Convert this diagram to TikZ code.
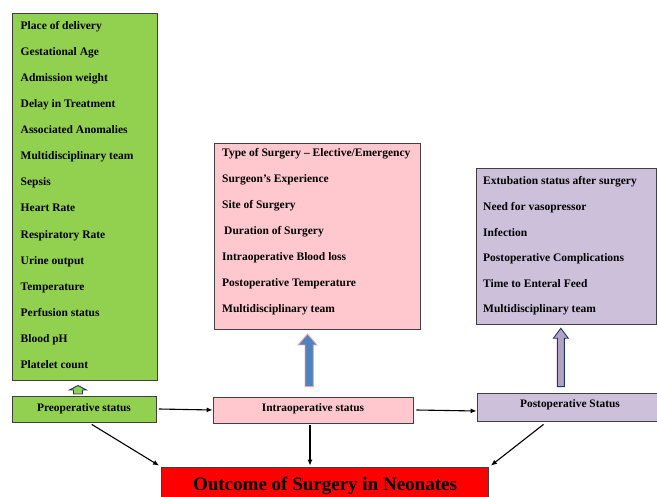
\documentclass[tikz,border=0pt]{standalone}
\usepackage{fontspec}
\setmainfont{Liberation Serif}
\usetikzlibrary{arrows.meta,calc}
\definecolor{gfill}{HTML}{92D050}
\definecolor{pfill}{HTML}{FFC7CE}
\definecolor{vfill}{HTML}{CCC0DA}
\definecolor{rfill}{HTML}{FF0000}
\definecolor{bline}{HTML}{404040}
\definecolor{navy}{HTML}{1F3864}
\definecolor{ablue}{HTML}{4F81BD}
\definecolor{apink}{HTML}{F4A6B4}
\definecolor{avio}{HTML}{B3A2C7}
\tikzset{
  box/.style={draw=bline, line width=0.8pt, inner sep=0pt, rectangle},
  item/.style={anchor=base west, inner sep=0pt, font=\fontsize{11.5}{13}\selectfont\bfseries},
  lbl/.style={anchor=base, inner sep=0pt, font=\fontsize{11.4}{13}\selectfont\bfseries},
  conn/.style={-{Latex[length=6pt,width=5pt]}, line width=1.1pt, black}
}
\begin{document}
\begin{tikzpicture}[x=1pt,y=-1pt]
\useasboundingbox (0,0) rectangle (657,497);
% boxes
\node[box, fill=gfill, minimum width=145pt, minimum height=367pt] (gbox) at (85,197) {};
\node[box, fill=pfill, minimum width=206pt, minimum height=186pt] (pbox) at (317,236) {};
\node[box, fill=vfill, minimum width=180pt, minimum height=156pt] (vbox) at (566.5,246) {};
\node[box, fill=gfill, minimum width=144pt, minimum height=26pt] (pre) at (84.5,409) {};
\node[box, fill=pfill, minimum width=200pt, minimum height=26pt] (intra) at (313,410) {};
\node[box, fill=vfill, minimum width=180pt, minimum height=28pt] (post) at (567,407) {};
\node[box, fill=rfill, minimum width=327pt, minimum height=34pt] (out) at (325,484) {};
% list items
\foreach \t [count=\i from 0] in {Place of delivery, Gestational Age, Admission weight, Delay in Treatment, Associated Anomalies, Multidisciplinary team, Sepsis, Heart Rate, Respiratory Rate, Urine output, Temperature, Perfusion status, Blood pH, Platelet count}
  \node[item] (g\i) at (20.5, 29.3+26.1*\i) {\t};
\foreach \t [count=\i from 0] in {Type of Surgery -- Elective/Emergency, Surgeon’s Experience, Site of Surgery, \hspace{2pt}Duration of Surgery, Intraoperative Blood loss, Postoperative Temperature, Multidisciplinary team}
  \node[item] (p\i) at (222, 156.7+26*\i) {\t};
\foreach \t [count=\i from 0] in {Extubation status after surgery, Need for vasopressor, Infection, Postoperative Complications, Time to Enteral Feed, Multidisciplinary team}
  \node[item] (v\i) at (483, 185+25.6*\i) {\t};
% labels
\node[lbl] (prel) at (84,411.5) {Preoperative status};
\node[lbl] (intral) at (313,411.5) {Intraoperative status};
\node[lbl] (postl) at (570,408) {Postoperative Status};
\node[anchor=base, inner sep=0pt, font=\fontsize{19}{22}\selectfont\bfseries] (outl) at (325,490) {Outcome of Surgery in Neonates};
% block arrows
\draw[navy, line width=0.9pt, fill=gfill, line join=miter] (78,385.5) -- (86.5,390) -- (82.5,390) -- (82.5,394) -- (73.5,394) -- (73.5,390) -- (69.5,390) -- cycle;
\draw[apink, line width=0.9pt, fill=ablue] (307.5,334) -- (317,345) -- (313.3,345) -- (313.3,386.7) -- (305,386.7) -- (305,345) -- (298,345) -- cycle;
\draw[navy, line width=0.9pt, fill=avio] (560.8,328.3) -- (568.3,338.3) -- (564.3,338.3) -- (564.3,386.7) -- (557.3,386.7) -- (557.3,338.3) -- (553.3,338.3) -- cycle;
% connectors
\draw[conn] (pre.east |- 0,409) ++(2,0) -- (intra.west |- 0,410);
\draw[conn] (intra.east) ++(3,0) -- (post.west |- 0,411);
\draw[conn] ($(pre.south west)!0.55!(pre.south east)$) ++(0,2) -- ($(out.north west)+(-2,-1)$);
\draw[conn] (intra.south) ++(-3,2) -- ($(out.north)+(-15,-1)$);
\draw[conn] ($(post.south west)!0.37!(post.south east)$) ++(0,3) -- ($(out.north east)+(2,-1)$);
\end{tikzpicture}
\end{document}
